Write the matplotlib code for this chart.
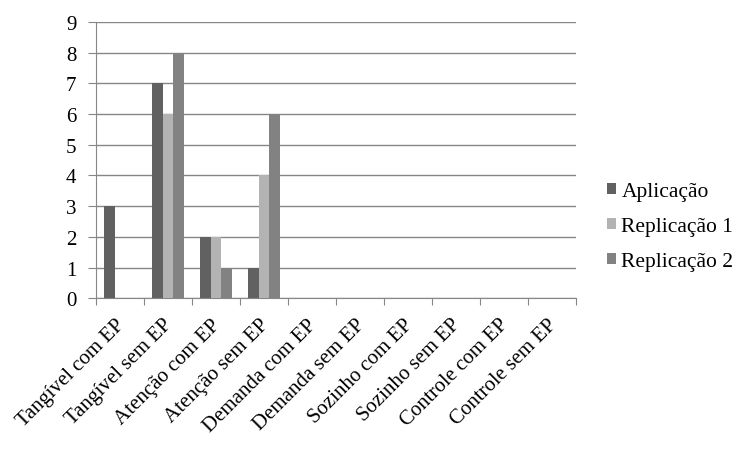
import matplotlib.pyplot as plt
import matplotlib.transforms as mtransforms
import numpy as np

plt.rcParams['font.family'] = ['Liberation Serif', 'DejaVu Serif']

categorias = ['Tangível com EP', 'Tangível sem EP', 'Atenção com EP', 'Atenção sem EP',
              'Demanda com EP', 'Demanda sem EP', 'Sozinho com EP', 'Sozinho sem EP',
              'Controle com EP', 'Controle sem EP']
aplicacao = [3, 7, 2, 1, 0, 0, 0, 0, 0, 0]
replicacao1 = [0, 6, 2, 4, 0, 0, 0, 0, 0, 0]
replicacao2 = [0, 8, 1, 6, 0, 0, 0, 0, 0, 0]
series = ['Aplicação', 'Replicação 1', 'Replicação 2']
cores = ['#616161', '#b3b3b3', '#828282']

fig = plt.figure(figsize=(7.5, 4.52), dpi=100)
ax = fig.add_axes([0.128, 0.338, 0.64, 0.611])

x = np.arange(len(categorias))
w = 1 / 4.5
for i, (vals, nome, cor) in enumerate(zip([aplicacao, replicacao1, replicacao2], series, cores)):
    ax.bar(x + (i - 1) * w, vals, w, color=cor, label=nome, zorder=3)

ax.set_xlim(-0.5, len(categorias) - 0.5)
ax.set_ylim(0, 9)
ax.set_yticks(range(10))
ax.yaxis.grid(True, color='#868686', linewidth=1, zorder=0)
ax.set_xticks(np.arange(len(categorias) + 1) - 0.5)
ax.set_xticklabels([])
ax.set_xticks(x, minor=True)
ax.set_xticklabels(categorias, minor=True, rotation=45, ha='right',
                   rotation_mode='anchor', fontsize=15)
ax.tick_params(axis='x', which='minor', length=0, pad=12)
ax.tick_params(axis='x', which='major', length=5, color='#868686')
ax.tick_params(axis='y', length=6, color='#868686', labelsize=15, pad=8)
# desloca os rótulos um pouco para a esquerda
desloc = mtransforms.ScaledTranslation(-5 / 100, 0, fig.dpi_scale_trans)
for lab in ax.get_xticklabels(minor=True):
    lab.set_transform(lab.get_transform() + desloc)
for s in ['top', 'right']:
    ax.spines[s].set_visible(False)
for s in ['left', 'bottom']:
    ax.spines[s].set_color('#868686')

ax.legend(loc='center left', bbox_to_anchor=(1.025, 0.26), frameon=False,
          fontsize=15.5, handlelength=0.4, handleheight=0.4, handletextpad=0.25,
          labelspacing=0.75)

fig.savefig('out.png', dpi=100)
